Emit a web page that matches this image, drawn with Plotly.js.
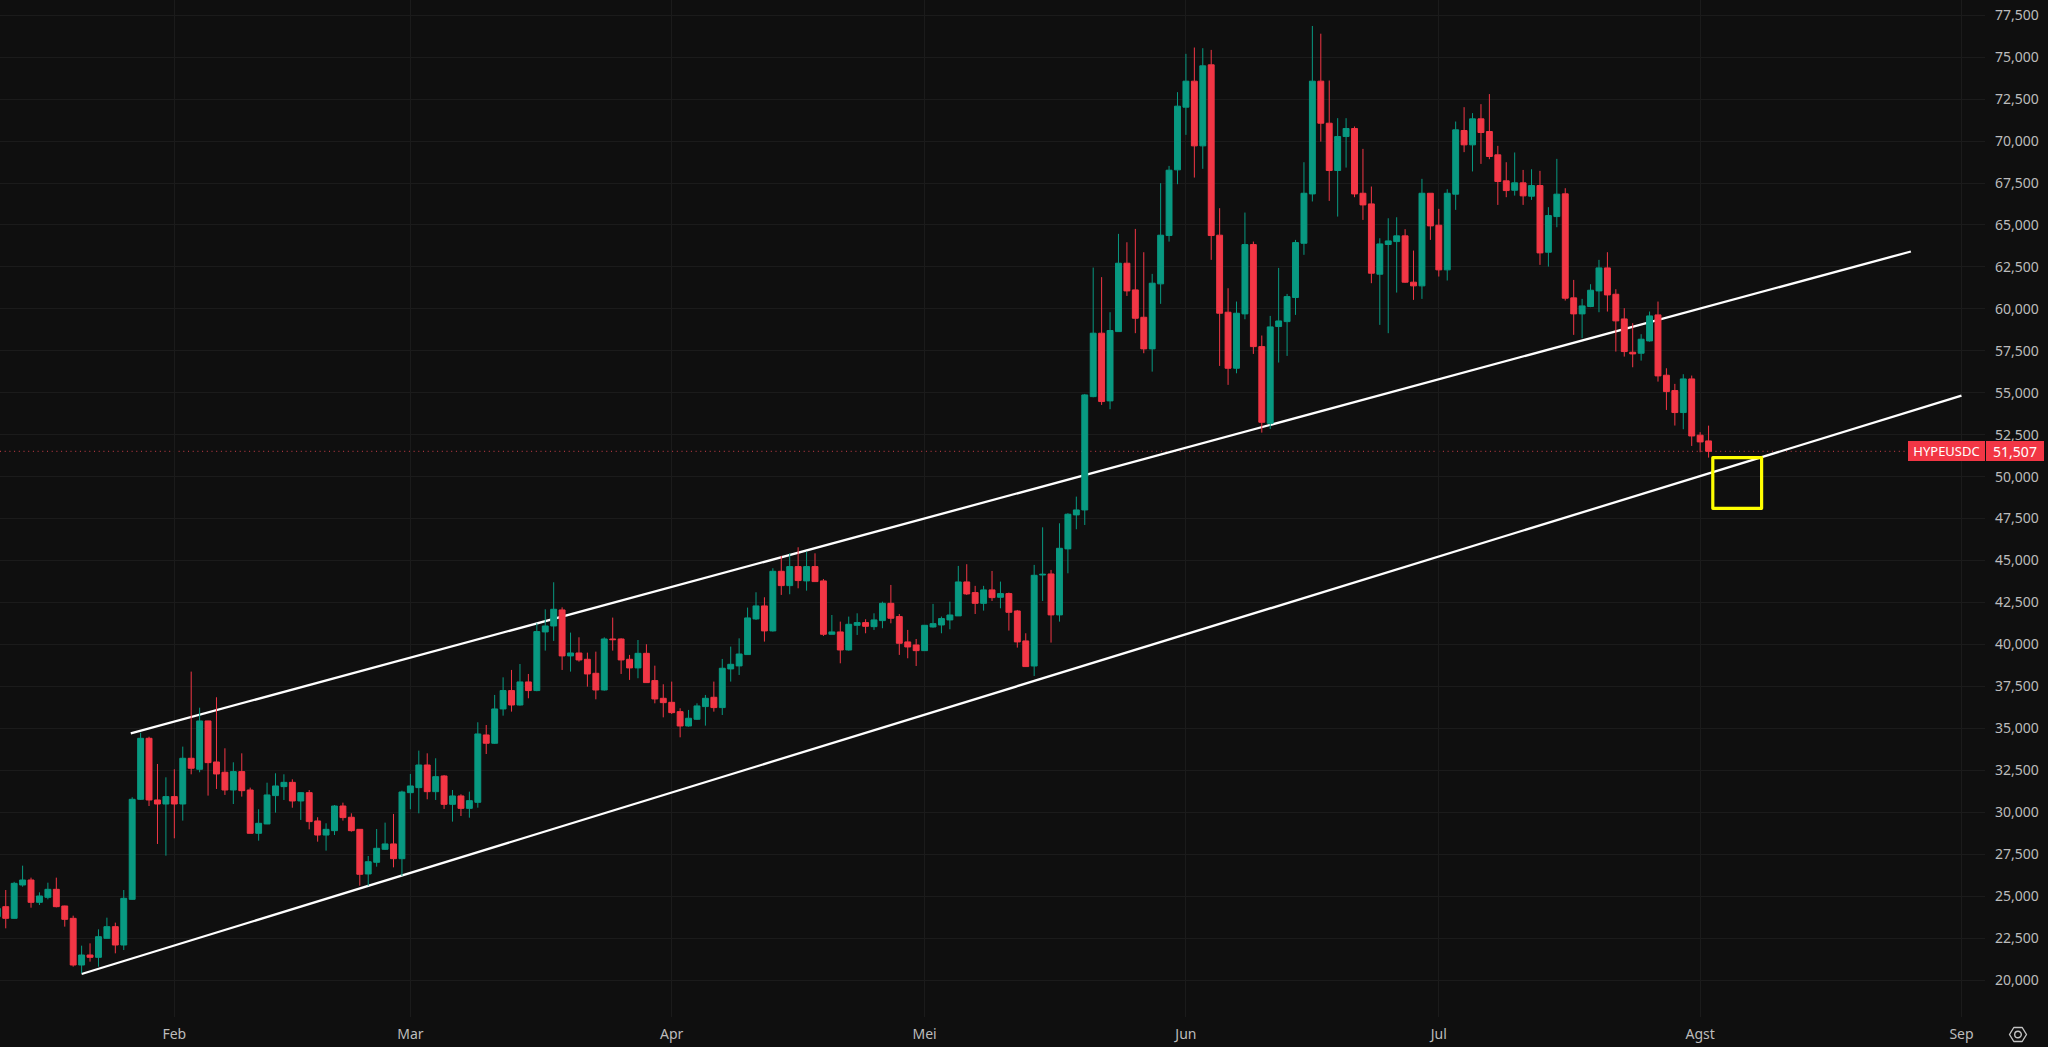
<!DOCTYPE html>
<html><head><meta charset="utf-8">
<script src="https://cdn.plot.ly/plotly-3.0.1.min.js"></script>
<style>html,body{margin:0;padding:0;background:#0f0f0f;overflow:hidden}#c{width:2048px;height:1047px}
.shapelayer path{shape-rendering:geometricPrecision !important;stroke-linejoin:round !important}</style>
</head><body><div id="c"></div>
<script>
const dates=["2026-01-11","2026-01-12","2026-01-13","2026-01-14","2026-01-15","2026-01-16","2026-01-17","2026-01-18","2026-01-19","2026-01-20","2026-01-21","2026-01-22","2026-01-23","2026-01-24","2026-01-25","2026-01-26","2026-01-27","2026-01-28","2026-01-29","2026-01-30","2026-01-31",
"2026-02-01","2026-02-02","2026-02-03","2026-02-04","2026-02-05","2026-02-06","2026-02-07","2026-02-08","2026-02-09","2026-02-10","2026-02-11","2026-02-12","2026-02-13","2026-02-14","2026-02-15","2026-02-16","2026-02-17","2026-02-18","2026-02-19","2026-02-20","2026-02-21","2026-02-22","2026-02-23","2026-02-24","2026-02-25","2026-02-26","2026-02-27","2026-02-28",
"2026-03-01","2026-03-02","2026-03-03","2026-03-04","2026-03-05","2026-03-06","2026-03-07","2026-03-08","2026-03-09","2026-03-10","2026-03-11","2026-03-12","2026-03-13","2026-03-14","2026-03-15","2026-03-16","2026-03-17","2026-03-18","2026-03-19","2026-03-20","2026-03-21","2026-03-22","2026-03-23","2026-03-24","2026-03-25","2026-03-26","2026-03-27","2026-03-28","2026-03-29","2026-03-30","2026-03-31",
"2026-04-01","2026-04-02","2026-04-03","2026-04-04","2026-04-05","2026-04-06","2026-04-07","2026-04-08","2026-04-09","2026-04-10","2026-04-11","2026-04-12","2026-04-13","2026-04-14","2026-04-15","2026-04-16","2026-04-17","2026-04-18","2026-04-19","2026-04-20","2026-04-21","2026-04-22","2026-04-23","2026-04-24","2026-04-25","2026-04-26","2026-04-27","2026-04-28","2026-04-29","2026-04-30",
"2026-05-01","2026-05-02","2026-05-03","2026-05-04","2026-05-05","2026-05-06","2026-05-07","2026-05-08","2026-05-09","2026-05-10","2026-05-11","2026-05-12","2026-05-13","2026-05-14","2026-05-15","2026-05-16","2026-05-17","2026-05-18","2026-05-19","2026-05-20","2026-05-21","2026-05-22","2026-05-23","2026-05-24","2026-05-25","2026-05-26","2026-05-27","2026-05-28","2026-05-29","2026-05-30","2026-05-31",
"2026-06-01","2026-06-02","2026-06-03","2026-06-04","2026-06-05","2026-06-06","2026-06-07","2026-06-08","2026-06-09","2026-06-10","2026-06-11","2026-06-12","2026-06-13","2026-06-14","2026-06-15","2026-06-16","2026-06-17","2026-06-18","2026-06-19","2026-06-20","2026-06-21","2026-06-22","2026-06-23","2026-06-24","2026-06-25","2026-06-26","2026-06-27","2026-06-28","2026-06-29","2026-06-30",
"2026-07-01","2026-07-02","2026-07-03","2026-07-04","2026-07-05","2026-07-06","2026-07-07","2026-07-08","2026-07-09","2026-07-10","2026-07-11","2026-07-12","2026-07-13","2026-07-14","2026-07-15","2026-07-16","2026-07-17","2026-07-18","2026-07-19","2026-07-20","2026-07-21","2026-07-22","2026-07-23","2026-07-24","2026-07-25","2026-07-26","2026-07-27","2026-07-28","2026-07-29","2026-07-30","2026-07-31",
"2026-08-01","2026-08-02"];
const opens=[23775,24371,23676,25663,25961,24630,24928,25405,24411,23676,20894,21490,21351,22484,23179,22086,24808,30770,34405,30730,30490,
30930,30490,33215,32560,35440,32995,32380,31325,32420,31325,28743,29300,30990,31525,31780,30670,31165,29480,28640,28900,30370,29700,28980,26320,27015,27790,28110,27230,
31165,31465,32815,31225,32160,30470,30970,30230,30590,34605,34110,36155,37250,36390,37765,37250,40745,41100,42055,39315,39490,39115,38280,37285,40325,40325,39115,38600,39470,37845,36790,
36550,35995,35140,35540,36295,36850,36235,38540,38720,39395,41520,42295,40805,44360,43505,44640,43785,44640,43785,40605,40745,39670,41140,41300,41060,41420,42450,41660,40150,39970,
39630,41040,41160,41460,41700,43725,43090,42450,43250,42810,43030,41995,40210,38715,44140,44200,41760,45695,47720,48015,54770,58550,54515,58645,62720,61130,59500,57615,61490,64370,68285,
72020,73570,69715,74545,64390,59800,56460,59700,63830,57750,53180,58945,59240,60675,63910,66850,73570,71065,68245,70270,70750,66890,66255,62065,63835,64010,64350,61590,61370,66890,
64985,62325,66835,70630,69775,71325,70570,69180,67630,67070,67510,66715,67350,63375,65500,66855,60655,59700,60140,61070,62440,60870,59400,57415,57355,58090,59640,56045,55130,53820,55825,
52470,52130];
const closes=[24272,23676,25762,25961,24630,25007,25405,24371,23616,20894,21490,21351,22583,23179,22086,24868,30770,34405,30730,30490,30930,
30490,33215,32620,35440,32955,32280,31325,32420,31285,28743,29340,31030,31565,31780,30670,31165,29440,28640,28980,30370,29680,28900,26300,27050,27850,28110,27230,31205,
31565,32815,31225,32120,30470,30970,30230,30690,34665,34110,36155,37250,36390,37765,37250,40765,41100,42095,39315,39490,39075,38240,37285,40325,40285,39075,38600,39470,37725,36750,36530,
35935,35140,35600,36335,36790,36235,38580,38815,39430,41580,42295,40805,44360,43505,44640,43805,44640,43745,40605,40745,39670,41200,41300,41080,41460,42450,41560,40070,39850,39630,
41140,41240,41540,41755,43725,43010,42450,43250,42790,43030,41915,40150,38680,44120,44180,41760,45730,47760,48015,54870,58550,54475,58710,62720,61070,59440,57615,61530,64390,68265,72080,
73570,69715,74485,64370,59740,56460,59740,63830,57750,53240,58925,59280,60730,63950,66890,73570,71065,68245,70270,70750,66850,66195,62125,63870,64050,64350,61590,61370,66890,64945,
62325,66890,70670,69775,71325,70510,69080,67590,67050,67510,66735,67350,63335,65560,66835,60635,59700,60175,61110,62440,60830,59285,57455,57315,58190,59580,56005,55070,53820,55825,52425,
52070,51507];
const highs=[24570,25365,25850,26815,26100,25225,25800,26100,24430,23835,22047,22186,23020,23716,23418,25365,30890,34740,34500,32875,32080,
32560,33910,38380,36230,35450,36850,33810,32975,33510,31465,30175,31760,32320,32260,31960,31190,31325,29700,29340,30430,30570,29935,28990,27390,29000,29380,29895,31285,
32280,33670,33510,33215,32220,31325,31070,31225,35360,35200,36990,38040,38480,38835,38240,41260,42095,43705,42210,40705,40425,39510,39570,40425,41600,40365,39375,40265,40010,38735,37625,
37785,36195,36095,36490,36990,37785,39135,39870,40365,42195,43110,42810,44540,45275,45430,45790,45530,45430,43900,41755,41360,41660,41855,41500,41855,42550,43545,41815,40865,40325,
41160,42415,41660,42550,44680,44780,43490,43490,44380,43745,43090,42055,40665,44740,46980,44440,47220,47820,48810,54930,62460,61890,59800,64470,63970,64765,63375,62085,67490,68520,72915,
75200,75575,75535,75435,66000,61230,60435,65740,64010,58410,59580,62440,60890,64110,68740,76860,76400,73610,71365,71365,70870,69535,67290,64210,65400,65460,64750,63475,67750,66890,
65960,67130,71165,72020,71665,72200,72800,69715,68740,69320,68280,68320,68225,66060,68940,67190,61725,60595,61470,62920,63375,61170,60040,59145,58490,59840,60435,56460,55530,56105,56025,
52650,53040];
const lows=[23080,23080,23650,25560,24310,24470,24810,24330,23180,20795,20397,21093,20795,22470,21590,21790,24780,30730,30370,28107,27410,
28445,29500,32260,32380,30990,31385,31030,30490,30930,28740,28305,29290,29975,30730,30270,29540,28980,28245,27710,28640,29500,28840,25620,25620,26755,27750,26715,26200,
30175,29935,30770,30730,30195,29440,29775,29675,30270,33470,34070,35755,35995,36350,36790,37210,39630,40210,38480,38380,38975,37485,36730,37245,39630,38240,37885,37985,37720,36490,35655,
35855,34465,35100,35500,35160,35995,35795,37785,38180,39390,41460,40170,40765,42950,42990,43345,43205,43740,40505,40600,38875,39630,40565,40665,40865,40965,41260,39375,39175,38715,
39610,41000,40665,40905,41695,42950,41815,42015,42590,42155,40825,39810,38675,38120,42590,40110,41360,44240,46865,47120,54730,54275,54020,58640,60770,58550,57355,56260,60300,64010,67430,
70370,67825,68345,62920,56600,55470,56160,59380,57315,52625,52845,56800,57195,59640,63220,66400,69970,66435,65500,68420,66655,65300,61530,59045,58550,60970,61550,60535,60595,64110,
61925,61690,65900,69340,68190,68640,68920,66195,66655,66750,66195,66495,62620,62520,64865,60495,58450,58250,60100,59800,59840,57455,57155,56520,56915,58050,55665,53975,53045,52825,51830,
51455,51135];

const monthTicks=["2026-02-01","2026-03-01","2026-04-01","2026-05-01","2026-06-01","2026-07-01","2026-08-01","2026-09-01"];
const monthLabels=["Feb","Mar","Apr","Mei","Jun","Jul","Agst","Sep"];
const upperLineX=["2026-01-26 20:00","2026-08-26 00:00"];
const upperLineY=[34703,63419];
const lowerLineX=["2026-01-21 00:00","2026-09-01 00:00"];
const lowerLineY=[20358,54824];
const boxX=["2026-08-02 12:00","2026-08-08 07:00"];
const boxY=[48113,51130];
const lastPrice=51507;
const symbol="HYPEUSDC";
const xRange=["2026-01-11 07:40","2026-09-03 19:00"];
const yRange=[17795,78408];

const UP="#089981",DOWN="#f23645",BG="#0f0f0f",GRID="#1b1b1b",TXT="#bcbcbc";
const W=2048,H=1047,ML=0,MR=63,MT=0,MB=30;
const px=v=>(v-ML)/(W-ML-MR), py=v=>(H-MB-v)/(H-MT-MB);

const hexPts=[[2009.5,1034.5],[2013.8,1027.5],[2022.2,1027.5],[2026.5,1034.5],[2022.2,1041.5],[2013.8,1041.5]];
const hexPath="M"+hexPts.map(p=>px(p[0])+","+py(p[1])).join("L")+"Z";

const data=[{
  type:"candlestick",x:dates,open:opens,high:highs,low:lows,close:closes,
  increasing:{line:{color:UP,width:1},fillcolor:UP},
  decreasing:{line:{color:DOWN,width:1},fillcolor:DOWN},
  whiskerwidth:0,hoverinfo:"skip",showlegend:false
}];
const layout={
  width:W,height:H,paper_bgcolor:BG,plot_bgcolor:BG,showlegend:false,boxgap:0.3,boxgroupgap:0,
  margin:{l:ML,r:MR,t:MT,b:MB,pad:0},
  font:{family:"'Noto Sans','Open Sans',sans-serif",size:14,color:TXT},
  xaxis:{type:"date",range:xRange,rangeslider:{visible:false},tickmode:"array",tickvals:monthTicks,ticktext:monthLabels,
    showgrid:true,gridcolor:GRID,gridwidth:1,zeroline:false,showline:false,ticks:"",tickfont:{size:14,color:TXT},ticklabelstandoff:7,fixedrange:true},
  yaxis:{side:"right",range:yRange,dtick:2500,tick0:0,tickformat:",d",showgrid:true,gridcolor:GRID,gridwidth:1,zeroline:false,showline:false,ticks:"",
    tickfont:{size:14,color:TXT},ticklabelstandoff:9,fixedrange:true},
  shapes:[
    {type:"line",layer:"between",xref:"paper",yref:"y",x0:0,x1:1,y0:lastPrice,y1:lastPrice,line:{color:"#a8363f",width:1.1,dash:"1px,3.7px"}},
    {type:"line",layer:"between",xref:"x",yref:"y",x0:upperLineX[0],x1:upperLineX[1],y0:upperLineY[0],y1:upperLineY[1],line:{color:"#ffffff",width:2.3}},
    {type:"line",layer:"between",xref:"x",yref:"y",x0:lowerLineX[0],x1:lowerLineX[1],y0:lowerLineY[0],y1:lowerLineY[1],line:{color:"#ffffff",width:2.3}},
    {type:"rect",layer:"above",xref:"x",yref:"y",x0:boxX[0],x1:boxX[1],y0:boxY[0],y1:boxY[1],line:{color:"#ffff00",width:3.2},fillcolor:"rgba(0,0,0,0)"},
    {type:"path",layer:"above",xref:"paper",yref:"paper",path:hexPath,line:{color:"#c4c4c4",width:1.4}},
    {type:"circle",layer:"above",xref:"paper",yref:"paper",x0:px(2014.7),x1:px(2021.3),y0:py(1037.8),y1:py(1031.2),line:{color:"#c4c4c4",width:1.4}}
  ],
  annotations:[
    {xref:"paper",yref:"y",x:1,y:lastPrice,xanchor:"right",yanchor:"middle",text:symbol,showarrow:false,width:77,height:20,align:"center",valign:"middle",
      bgcolor:DOWN,borderpad:0,borderwidth:0,font:{size:13,color:"#ffffff"}},
    {xref:"paper",yref:"y",x:1.0005,y:lastPrice,xanchor:"left",yanchor:"middle",text:lastPrice.toLocaleString("en-US"),showarrow:false,width:58,height:20,align:"center",valign:"middle",
      bgcolor:DOWN,borderpad:0,borderwidth:0,font:{size:14,color:"#ffffff"}}
  ]
};
Plotly.newPlot("c",data,layout,{displayModeBar:false,staticPlot:true,responsive:false});
</script></body></html>
